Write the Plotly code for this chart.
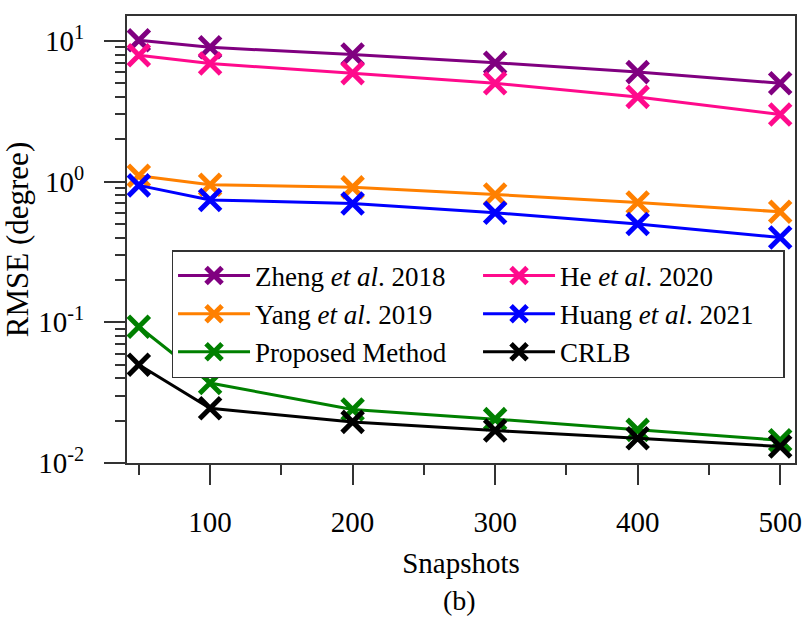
import plotly.graph_objects as go

snapshots = [50, 100, 200, 300, 400, 500]
zheng = [10.1, 9.0, 8.0, 7.0, 6.0, 5.0]
he = [7.9, 6.9, 5.9, 5.0, 4.0, 3.0]
yang = [1.1, 0.95, 0.91, 0.81, 0.71, 0.61]
huang = [0.94, 0.74, 0.70, 0.60, 0.50, 0.40]
proposed = [0.093, 0.037, 0.024, 0.0205, 0.0172, 0.0145]
crlb = [0.050, 0.0245, 0.0196, 0.0170, 0.0150, 0.0131]

series = [
    ("Zheng <i>et al</i>. 2018", zheng, "#800080"),
    ("He <i>et al</i>. 2020", he, "#FF0A8C"),
    ("Yang <i>et al</i>. 2019", yang, "#FF8000"),
    ("Huang <i>et al</i>. 2021", huang, "#0000FF"),
    ("Proposed Method", proposed, "#008000"),
    ("CRLB", crlb, "#000000"),
]

ytickvals = [0.01, 0.1, 1, 10]
yticktext = ["10<sup>-2</sup>", "10<sup>-1</sup>", "10<sup>0</sup>", "10<sup>1</sup>"]
yminor = [m * 10 ** e for e in (-2, -1, 0) for m in range(2, 10)]

fig = go.Figure()
for name, vals, color in series:
    fig.add_trace(go.Scatter(
        x=snapshots, y=vals, name=name, mode="lines+markers",
        line=dict(color=color, width=3),
        marker=dict(symbol="x-thin", size=21, color=color,
                    line=dict(color=color, width=5)),
    ))

ff = "Liberation Serif"
fig.update_layout(
    width=811, height=617,
    margin=dict(l=127, r=9, t=16, b=154),
    paper_bgcolor="white", plot_bgcolor="white",
    font=dict(family=ff, size=29, color="black"),
    showlegend=True,
    legend=dict(
        orientation="h", x=(172 - 127) / 675, y=(463 - 250) / 447,
        xanchor="left", yanchor="top",
        entrywidth=218, entrywidthmode="pixels",
        bordercolor="#333333", borderwidth=1.5, bgcolor="white",
        font=dict(family=ff, size=27, color="black"),
        tracegroupgap=0, itemwidth=72,
    ),
    annotations=[dict(
        text="(b)", x=(463 - 127) / 675, y=(463 - 600) / 447,
        xref="paper", yref="paper", xanchor="center", yanchor="middle",
        showarrow=False, font=dict(family=ff, size=28),
    )],
)

fig.update_xaxes(
    range=[41.7, 510.4], tickvals=[100, 200, 300, 400, 500],
    ticks="outside", ticklen=20, tickwidth=1.5, tickcolor="#333333",
    minor=dict(tickvals=[50, 150, 250, 350, 450], ticks="outside", ticklen=10,
               tickwidth=1.5, tickcolor="#333333", showgrid=False),
    showline=True, linecolor="#333333", linewidth=2, mirror=True,
    showgrid=False, zeroline=False, ticklabelstandoff=12,
    title=dict(text="Snapshots", font=dict(family=ff, size=29), standoff=16),
    tickfont=dict(family=ff, size=29),
)
fig.update_yaxes(
    type="log", range=[-2, 1.177], tickvals=ytickvals, ticktext=yticktext,
    ticks="outside", ticklen=21, tickwidth=1.5, tickcolor="#333333",
    minor=dict(tickvals=yminor, ticks="outside", ticklen=10, tickwidth=1.5,
               tickcolor="#333333", showgrid=False),
    showline=True, linecolor="#333333", linewidth=2, mirror=True,
    showgrid=False, zeroline=False, ticklabelstandoff=14,
    title=dict(text="RMSE (degree)", font=dict(family=ff, size=31), standoff=8),
    tickfont=dict(family=ff, size=29),
)

fig.write_html("out.html")
